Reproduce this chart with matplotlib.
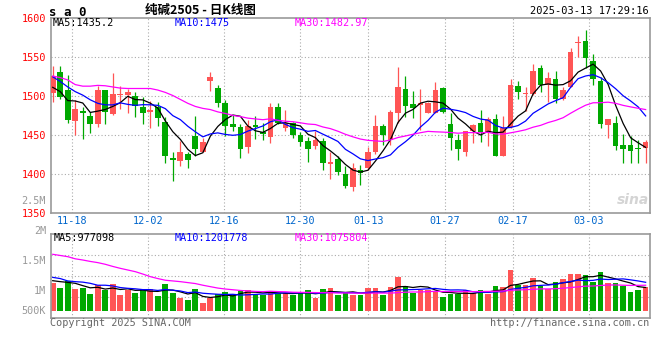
import numpy as np
import matplotlib.pyplot as plt

# daily bars of SA2505, 2024-11-13 .. 2025-03-13 (80 sessions)
OPEN = [1504.5, 1531, 1508, 1468.5, 1481, 1475, 1464.5, 1508, 1477, 1502,
        1502, 1500, 1486, 1480, 1486, 1467, 1421, 1417, 1426, 1449,
        1429, 1519.5, 1510.5, 1491.5, 1464, 1460, 1435, 1463, 1454.5, 1448,
        1486, 1459.5, 1466, 1450, 1443, 1436, 1443, 1413.5, 1420, 1400,
        1384, 1405, 1408.5, 1428, 1462, 1444, 1479, 1509, 1490, 1489,
        1479, 1479, 1510, 1465, 1444, 1428, 1455, 1466, 1453, 1471,
        1423.5, 1461, 1513, 1502.5, 1502.5, 1536, 1514.5, 1522, 1497, 1512,
        1568, 1571, 1545, 1520, 1463, 1466, 1437.5, 1437.5, 1434, 1434]
HIGH = [1538.5, 1538.5, 1527, 1495.5, 1486, 1480, 1513, 1508, 1530, 1513,
        1510, 1505, 1499, 1494, 1493, 1473, 1429, 1443, 1429, 1475,
        1446, 1531, 1515, 1495, 1476, 1465, 1470, 1474.5, 1466, 1491.5,
        1492, 1482, 1467, 1454.5, 1448, 1456, 1447, 1429, 1423, 1411,
        1415, 1412, 1435.5, 1476, 1464, 1482.5, 1537, 1526.5, 1507, 1510,
        1493, 1518, 1512, 1478, 1452, 1456, 1464, 1482, 1474, 1477,
        1475, 1522, 1520, 1512, 1542, 1540, 1531, 1532, 1512, 1561.5,
        1577, 1585, 1554, 1525, 1471, 1475, 1452, 1449, 1444, 1444]
LOW = [1493, 1497, 1466, 1450.5, 1445.5, 1453, 1461, 1465, 1476, 1484,
       1478, 1473, 1464, 1460, 1462, 1414, 1392, 1411, 1408, 1423,
       1428, 1507, 1486, 1449, 1455, 1421, 1427, 1445, 1444, 1440,
       1465, 1455, 1447, 1436, 1416, 1433, 1405.5, 1394, 1399, 1382,
       1378, 1386, 1405.5, 1426, 1437.5, 1437.5, 1466, 1473, 1472.5, 1457,
       1479, 1478, 1478, 1431, 1418, 1423.5, 1440.5, 1442, 1436, 1423,
       1423, 1459, 1497, 1481, 1502, 1506, 1493, 1492, 1495, 1511.5,
       1551, 1536, 1514.5, 1460, 1447, 1431, 1415, 1415, 1414, 1414]
CLOSE = [1525.5, 1499.5, 1469.5, 1483.5, 1479, 1465, 1508, 1480, 1503, 1503,
         1506, 1487, 1478, 1482, 1472, 1423, 1418, 1429, 1418, 1432,
         1441, 1524.5, 1491.5, 1462, 1461, 1433, 1462, 1461, 1451.5, 1486,
         1466, 1466, 1450, 1442, 1433, 1444, 1415, 1416, 1403, 1385,
         1408, 1402, 1428, 1462, 1450, 1480, 1512, 1488, 1485.5, 1491,
         1492, 1508, 1480, 1447, 1433, 1455, 1463, 1454, 1471, 1423.5,
         1459, 1514.5, 1505, 1504.5, 1532.5, 1514.5, 1523, 1497, 1508, 1557,
         1570, 1549, 1522, 1464.5, 1470.5, 1436, 1433, 1430, 1432.5, 1441]
# volume, thousands of lots
VOLUME_K = [1176, 966, 1247, 911, 966, 714, 1079, 869, 1134, 659,
            857, 756, 911, 911, 617, 1134, 756, 546, 449, 911,
            336, 533, 714, 798, 714, 815, 869, 689, 659, 827,
            731, 731, 659, 756, 869, 546, 911, 966, 659, 756,
            659, 659, 966, 966, 659, 995, 1428, 1037, 756, 869,
            869, 798, 588, 701, 701, 869, 756, 869, 701, 1037,
            995, 1709, 1079, 1079, 1373, 1037, 911, 1205, 1331, 1554,
            1554, 1499, 1205, 1625, 1176, 1176, 1037, 798, 869, 995]

# moving-average values at the left edge (need history before the window)
PRICE_MA5_LEAD = [1511.5, 1506, 1494.5, 1494]
PRICE_MA10_LEAD = [1525, 1519, 1512, 1506, 1501.5, 1495.5, 1491, 1489, 1489]
PRICE_MA30_LEAD = [1526, 1524, 1521, 1515, 1513, 1513, 1514, 1513.5, 1512, 1510.5,
                   1510, 1510, 1510, 1510, 1508, 1505, 1501, 1496, 1491, 1487,
                   1484.5, 1483, 1480, 1478, 1475.5, 1474, 1472, 1471, 1470]
VOL_MA5_LEAD = [1260, 1220, 1190, 1150]
VOL_MA10_LEAD = [1400, 1350, 1250, 1220, 1200, 1150, 1070, 1070, 1040]
VOL_MA30_LEAD = [2370, 2320, 2270, 2180, 2130, 2070, 2020, 1950, 1860, 1780,
                 1710, 1640, 1540, 1430, 1350, 1280, 1250, 1220, 1180, 1140,
                 1070, 1010, 950, 910, 880, 850, 830, 810, 800]

TICK_DATES = ['11-18', '12-02', '12-16', '12-30', '01-13', '01-27', '02-17', '03-03']
TICK_IDX = [3, 13, 23, 33, 42, 52, 61, 71]
PRICE_TICKS = [1350, 1400, 1450, 1500, 1550, 1600]


def moving_average(values, n, lead):
    arr = np.asarray(values, float)
    tail = np.convolve(arr, np.ones(n) / n, mode='valid')
    return np.concatenate([np.asarray(lead, float), tail])


W, H = 660, 360
RED, GREEN = '#ff5555', '#00a800'
GRID = dict(color='#aaaaaa', lw=0.8, ls=(0, (1, 2)))
MONO = 'DejaVu Sans Mono'

fig = plt.figure(figsize=(W / 100, H / 100), dpi=100)


def px_axes(l, t, r, b):
    return fig.add_axes([l / W, 1 - b / H, (r - l) / W, (b - t) / H])


def px_text(x, y, s, **kw):
    fig.text(x / W, 1 - y / H, s, **kw)


ax = px_axes(50.7, 18.3, 650, 213.3)
axv = px_axes(50.7, 234.3, 650, 318.3)

n = len(CLOSE)
x = np.arange(n)
o, h, l, c = (np.asarray(a, float) for a in (OPEN, HIGH, LOW, CLOSE))
vol = np.asarray(VOLUME_K, float) * 1000
colors = [RED if c[i] >= o[i] else GREEN for i in range(n)]

# gridline positions (sina spaces them slightly wider than the candles)
gx = [i * 1.0135 - 0.5 for i in TICK_IDX]

for a in (ax, axv):
    a.set_xlim(-0.27, 79.58)
    for g in gx:
        a.axvline(g, zorder=0, **GRID)
    for s in a.spines.values():
        s.set_color('#999999')
        s.set_linewidth(1.2)
    a.tick_params(length=0)

# candles
ax.vlines(x, l, h, colors=colors, lw=0.9, zorder=2)
ax.bar(x, np.maximum(np.abs(c - o), 1.2), bottom=np.minimum(o, c),
       width=0.76, color=colors, zorder=3)
ax.plot(x, moving_average(CLOSE, 5, PRICE_MA5_LEAD), color='black', lw=0.9, zorder=4)
ax.plot(x, moving_average(CLOSE, 10, PRICE_MA10_LEAD), color='#0000ff', lw=0.9, zorder=4)
ax.plot(x, moving_average(CLOSE, 30, PRICE_MA30_LEAD), color='#ff00ff', lw=0.9, zorder=4)

ax.set_ylim(1350, 1600)
for p in PRICE_TICKS[1:-1]:
    ax.axhline(p, zorder=0, **GRID)
ax.set_yticks(PRICE_TICKS)
ax.set_yticklabels([str(p) for p in PRICE_TICKS], color='#ff0000',
                   family=MONO, fontsize=7.3)
ax.tick_params(axis='y', pad=3.4)
ax.set_xticks(gx)
ax.set_xticklabels(TICK_DATES, color='#0066cc', family=MONO, fontsize=7.3)
ax.tick_params(axis='x', pad=2)

# volume
axv.bar(x, vol, width=0.76, color=colors, zorder=2)
axv.plot(x, moving_average(vol, 5, np.asarray(VOL_MA5_LEAD) * 1000), color='black', lw=0.9, zorder=3)
axv.plot(x, moving_average(vol, 10, np.asarray(VOL_MA10_LEAD) * 1000), color='#0000ff', lw=0.9, zorder=3)
axv.plot(x, moving_average(vol, 30, np.asarray(VOL_MA30_LEAD) * 1000), color='#ff00ff', lw=0.9, zorder=3)
axv.set_ylim(-0.32e6, 3.21e6)
for f in (0.25, 0.5, 0.75):
    axv.plot([0, 1], [f, f], transform=axv.transAxes, zorder=0, **GRID)
axv.set_xticks([])
axv.set_yticks([])

# texts
px_text(49, 12.5, 's a 0', family=MONO, fontsize=9, weight='bold', va='center')
px_text(200, 10.5, '纯碱2505 - 日K线图', family=['Noto Sans CJK SC', 'DejaVu Sans'],
        fontsize=9, weight='bold', ha='center', va='center')
px_text(649, 11.5, '2025-03-13 17:29:16', family=MONO, fontsize=7.5, ha='right', va='center')

px_text(53, 23.5, 'MA5:1435.2', family=MONO, fontsize=7.3, color='black', va='center')
px_text(174.3, 23.5, 'MA10:1475', family=MONO, fontsize=7.3, color='#0000ff', va='center')
px_text(294.3, 23.5, 'MA30:1482.97', family=MONO, fontsize=7.3, color='#ff00ff', va='center')

px_text(54, 238.3, 'MA5:977098', family=MONO, fontsize=7.3, color='black', va='center')
px_text(174.3, 238.3, 'MA10:1201778', family=MONO, fontsize=7.3, color='#0000ff', va='center')
px_text(294.3, 238.3, 'MA30:1075804', family=MONO, fontsize=7.3, color='#ff00ff', va='center')

for lab, yy in [('2.5M', 200.7), ('2M', 230.7), ('1.5M', 260.7), ('1M', 290.7), ('500K', 310.7)]:
    px_text(46, yy, lab, family=MONO, fontsize=7.3, color='#999999', ha='right', va='center')

px_text(50, 323, 'Copyright 2025 SINA.COM', family=MONO, fontsize=7.3, color='#666666', va='center')
px_text(649, 323, 'http://finance.sina.com.cn', family=MONO, fontsize=7.3, color='#666666',
        ha='right', va='center')
px_text(633, 200, 'sina', fontsize=10, style='italic', weight='bold', color='#d4d4d4',
        ha='center', va='center')

fig.savefig('out.png', dpi=100)
